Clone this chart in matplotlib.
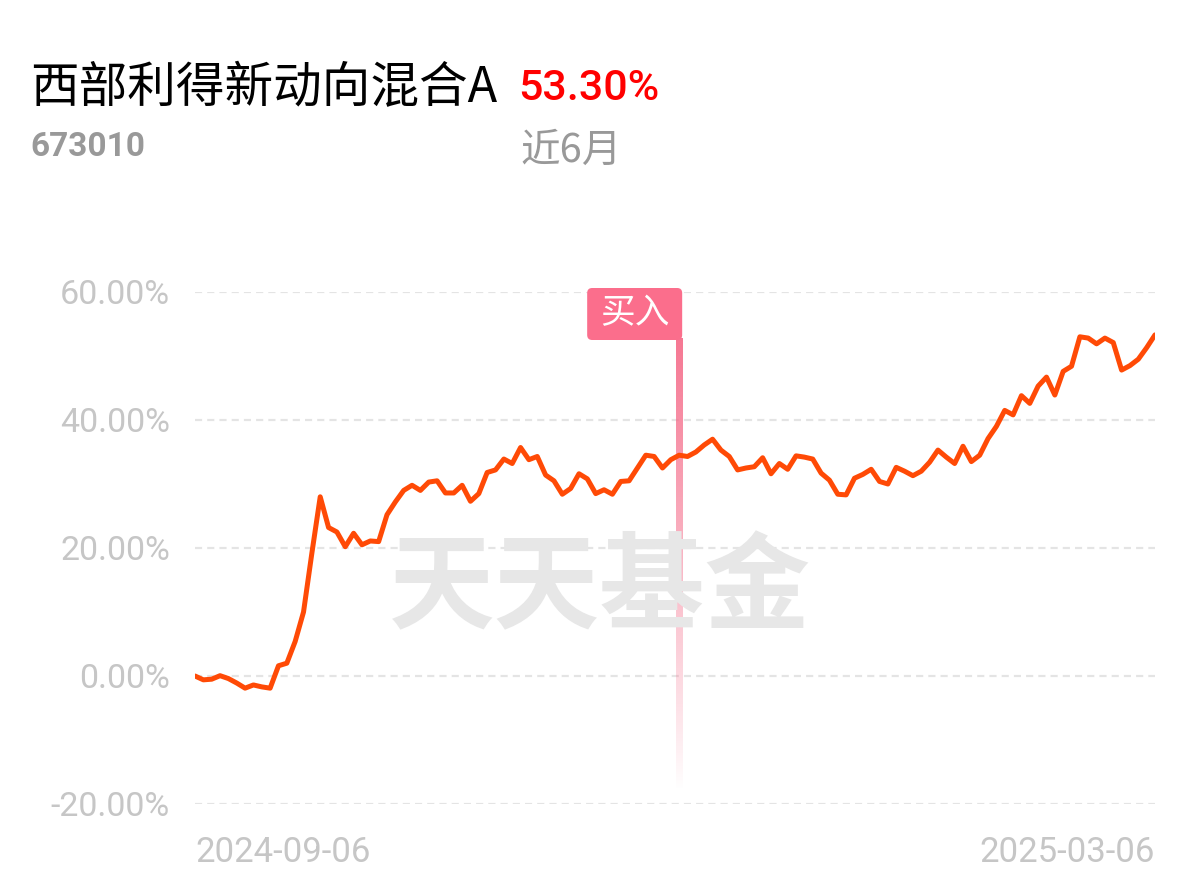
import numpy as np
import matplotlib
matplotlib.use("Agg")
import matplotlib.pyplot as plt
import matplotlib.transforms as mtransforms
from matplotlib.patches import FancyBboxPatch

plt.rcParams['font.family'] = ['Noto Sans CJK SC', 'DejaVu Sans']

# =========================
# 数据
# =========================
fund_name = "西部利得新动向混合A"
fund_code = "673010"
period_return = "53.30%"
period_label = "近6月"

# 累计收益率 (%)
returns = [
    0.0, -0.6, -0.5, 0.05, -0.4, -1.1, -1.9, -1.4, -1.7, -1.9,
    1.6, 2.0, 5.4, 10.0, 19.2, 28.0, 23.2, 22.5, 20.2, 22.3,
    20.5, 21.1, 21.0, 25.2, 27.2, 29.0, 29.8, 29.0, 30.3, 30.5,
    28.6, 28.6, 29.8, 27.3, 28.5, 31.8, 32.2, 33.9, 33.2, 35.7,
    33.8, 34.3, 31.4, 30.5, 28.4, 29.3, 31.6, 30.8, 28.5, 29.1,
    28.4, 30.4, 30.5, 32.5, 34.5, 34.3, 32.5, 33.8, 34.5,
    34.3, 35.0, 36.1, 37.0, 35.3, 34.3, 32.2, 32.5, 32.7, 34.1,
    31.6, 33.2, 32.3, 34.4, 34.2, 33.9, 31.7, 30.6, 28.4, 28.3,
    30.9, 31.5, 32.3, 30.4, 30.0, 32.6, 32.0, 31.3, 32.0, 33.4,
    35.3, 34.2, 33.2, 35.9, 33.5, 34.5, 37.1, 39.0, 41.5, 40.8,
    43.8, 42.6, 45.3, 46.7, 43.9, 47.6, 48.4, 53.0, 52.8, 51.9,
    52.8, 52.1, 47.8, 48.5, 49.5, 51.3, 53.3,
]
date_labels = ["2024-09-06", "2025-03-06"]
y_ticks = [-20, 0, 20, 40, 60]
buy_idx = 58
buy_label = "买入"

# =========================
# 画图
# =========================
W, H = 1200, 881
fig = plt.figure(figsize=(W / 100, H / 100), dpi=100)
fig.patch.set_facecolor("white")

ax = fig.add_axes([195 / W, 1 - 804 / H, 960 / W, 512 / H])
x = np.arange(len(returns))
ax.set_xlim(0, len(returns) - 1)
ax.set_ylim(-20, 60)

for s in ax.spines.values():
    s.set_visible(False)

# 网格虚线
for yt in y_ticks:
    ax.axhline(yt, color="#e4e4e4", lw=1.6, ls=(0, (3.2, 2.3)), zorder=1)

# 水印
fig.text(600 / W, 1 - 590 / H, "天天基金", fontsize=76, fontweight="heavy",
         color="#e7e7e7", ha="center", va="center", zorder=0)

# 买入竖线（渐变）
top_y = 52.8
bot_y = -17.8
n = 256
grad = np.zeros((n, 1, 4))
grad[:, 0, 0] = 0xF5 / 255
grad[:, 0, 1] = 0x6A / 255
grad[:, 0, 2] = 0x88 / 255
grad[:, 0, 3] = np.linspace(0.9, 0.0, n) ** 0.9
half_w = 3.2 / (960 / (len(returns) - 1))
ax.imshow(grad, extent=(buy_idx - half_w, buy_idx + half_w, bot_y, top_y),
          aspect="auto", origin="upper", zorder=2, interpolation="bilinear")

# 收益曲线
ax.plot(x, returns, color="#FF4A06", lw=3.6, solid_joinstyle="round",
        solid_capstyle="round", zorder=3)

# 买入标签
ax.set_xlim(0, len(returns) - 1)
ax.set_ylim(-20, 60)
px_right = ax.transData.transform((buy_idx, 0))[0] + 3
box_w, box_h = 95, 52
box_top = H - 288
bbox = FancyBboxPatch((px_right - box_w, box_top - box_h), box_w, box_h,
                      boxstyle="round,pad=0,rounding_size=5",
                      fc="#FB6E8C", ec="none",
                      transform=mtransforms.IdentityTransform(), zorder=4)
fig.add_artist(bbox)
fig.text((px_right - box_w / 2) / W, (box_top - box_h / 2) / H, buy_label,
         color="white", fontsize=25, ha="center", va="center", zorder=5)

# 坐标轴刻度
ax.set_yticks(y_ticks)
ax.set_yticklabels([f"{v:.2f}%" for v in y_ticks])
ax.tick_params(axis="y", length=0, pad=18, labelsize=24.5, labelcolor="#c6c6c6")
for lab in ax.get_yticklabels():
    lab.set_family(["Roboto", "DejaVu Sans"])

ax.set_xticks([0, len(returns) - 1])
ax.set_xticklabels(date_labels)
ax.tick_params(axis="x", length=0, pad=23, labelsize=25, labelcolor="#c6c6c6")
xl = ax.get_xticklabels()
xl[0].set_ha("left")
xl[1].set_ha("right")
for lab in xl:
    lab.set_family(["Roboto", "DejaVu Sans"])

# 标题区
fig.text(30 / W, 1 - 88 / H, fund_name, fontsize=35, color="black",
         ha="left", va="center")
fig.text(518 / W, 1 - 88 / H, period_return, fontsize=31, color="#FF0000",
         ha="left", va="center", family=["Roboto", "DejaVu Sans"], fontweight="medium")
fig.text(30 / W, 1 - 147 / H, fund_code, fontsize=24, color="#999999",
         ha="left", va="center", family=["Roboto", "DejaVu Sans"], fontweight="bold")
fig.text(520 / W, 1 - 151 / H, period_label, fontsize=28.5, color="#999999",
         ha="left", va="center")

fig.savefig("out.png", dpi=100)
